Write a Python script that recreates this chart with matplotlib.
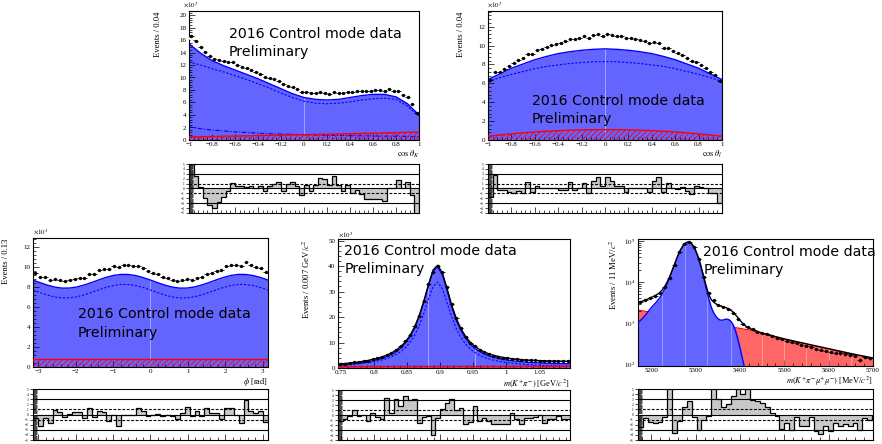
import numpy as np
import matplotlib
matplotlib.use("Agg")
import matplotlib.pyplot as plt
from matplotlib.ticker import MultipleLocator, FuncFormatter, LogLocator, NullFormatter

plt.rcParams["font.family"] = ["Liberation Serif", "DejaVu Serif"]
plt.rcParams["mathtext.fontset"] = "stix"
plt.rcParams["hatch.linewidth"] = 0.6

# ---------------- cos(theta_K) ----------------
ctk_fit_x = np.linspace(-1, 1, 21)
ctk_sig = [15.4, 13.9, 12.7, 11.9, 11.2, 10.5, 9.8, 9.0, 8.2, 7.4, 6.8,
           6.5, 6.4, 6.5, 6.8, 7.1, 7.3, 7.3, 6.9, 5.8, 4.0]
ctk_total = [16.3, 14.8, 13.6, 12.8, 12.1, 11.4, 10.7, 9.9, 9.1, 8.3, 7.7,
             7.4, 7.3, 7.4, 7.7, 8.0, 8.2, 8.2, 7.8, 6.7, 4.7]
ctk_dash = [12.5, 12.0, 11.4, 10.9, 10.3, 9.7, 9.0, 8.3, 7.5, 6.8, 6.2,
            5.9, 5.8, 5.9, 6.1, 6.4, 6.6, 6.7, 6.5, 5.4, 3.8]
ctk_dashdot = [2.1, 1.8, 1.6, 1.45, 1.3, 1.2, 1.1, 1.0, 0.95, 0.9, 0.85,
               0.8, 0.75, 0.72, 0.7, 0.68, 0.65, 0.62, 0.6, 0.58, 0.55]
ctk_bkg = [0.50, 0.53, 0.56, 0.60, 0.63, 0.67, 0.70, 0.74, 0.77, 0.81, 0.85,
           0.88, 0.92, 0.96, 1.00, 1.04, 1.08, 1.12, 1.17, 1.22, 1.28]
ctk_data = [16.6, 15.8, 14.8, 14.1, 13.4, 12.9, 12.8, 12.6, 12.4, 12.4,
            12.0, 11.75, 11.45, 11.2, 10.85, 10.6, 10.15, 9.95, 9.7, 9.45,
            8.9, 8.7, 8.45, 8.1, 7.65, 7.75, 7.45, 7.5, 7.6, 7.55,
            7.4, 7.65, 7.5, 7.45, 7.7, 7.65, 7.85, 7.85, 7.85, 7.9,
            7.95, 7.95, 7.9, 8.1, 7.9, 7.8, 7.2, 6.85, 5.75, 4.3]
ctk_pull = [5.5, 2.6, 0.3, -1.9, -3.4, -3.9, -2.7, -1.7, -0.6, 1.2,
            0.6, 0.5, 0.3, 0.6, 0.1, 0.6, -0.6, 0.6, 0.9, 1.3,
            -0.5, 1.0, 1.3, 0.5, -1.3, 0.8, -0.6, 0.8, 2.1, 2.0,
            0.8, 2.5, 0.8, -0.6, 0.8, -1.0, -0.3, -1.2, -2.1, -2.2,
            -2.2, -2.1, -2.5, 0.0, 0.0, 1.8, 0.1, 1.4, -1.3, -5.5]

# ---------------- cos(theta_l) ----------------
ctl_fit_x = np.linspace(-1, 1, 21)
ctl_sig = [6.4, 7.0, 7.6, 8.05, 8.5, 8.85, 9.15, 9.35, 9.5, 9.6, 9.65,
           9.6, 9.5, 9.35, 9.15, 8.85, 8.5, 8.05, 7.6, 7.0, 6.4]
ctl_dash = [6.2, 6.6, 6.95, 7.25, 7.55, 7.8, 7.95, 8.1, 8.2, 8.28, 8.3,
            8.28, 8.2, 8.1, 7.95, 7.8, 7.55, 7.25, 6.95, 6.6, 6.2]
ctl_bkg = [0.4, 0.53, 0.65, 0.76, 0.85, 0.93, 0.99, 1.04, 1.07, 1.09, 1.1,
           1.09, 1.07, 1.04, 0.99, 0.93, 0.85, 0.76, 0.65, 0.53, 0.4]
ctl_data = [6.4, 7.2, 7.24, 7.57, 7.83, 8.11, 8.42, 8.66, 9.12, 9.15,
            9.5, 9.66, 9.86, 10.03, 10.2, 10.31, 10.44, 10.73, 10.66, 10.78,
            10.96, 10.81, 11.1, 11.21, 11.05, 11.23, 11.14, 11.0, 10.96, 10.77,
            10.78, 10.69, 10.59, 10.49, 10.26, 10.34, 10.26, 9.77, 9.77, 9.45,
            9.21, 9.03, 8.7, 8.37, 8.26, 7.95, 7.6, 7.18, 6.84, 6.28]
ctl_pull = [-1.8, 2.8, -0.3, -0.3, -0.8, -0.9, -0.6, -0.9, 1.3, -0.8,
            0.5, 0.0, 0.1, 0.1, 0.1, -0.3, -0.3, 1.4, -0.3, 0.0,
            1.1, -1.0, 1.5, 2.3, 0.5, 2.3, 1.6, 0.5, 0.5, -0.8,
            0.0, 0.0, 0.0, 0.2, -0.8, 1.5, 2.4, -0.8, 1.1, 0.0,
            -0.2, 0.4, -0.5, -1.1, 0.6, 0.4, 0.0, -0.9, -0.9, -3.0]

# ---------------- phi ----------------
phi_fit_x = np.linspace(-np.pi, np.pi, 33)
phi_sig = [8.72, 8.45, 8.20, 8.01, 7.91, 7.92, 8.03, 8.23, 8.48, 8.75, 9.00,
           9.19, 9.29, 9.28, 9.17, 8.97, 8.72, 8.45, 8.20, 8.01, 7.91, 7.92,
           8.03, 8.23, 8.48, 8.75, 9.00, 9.19, 9.29, 9.28, 9.17, 8.97, 8.72]
phi_dash = [7.72, 7.45, 7.21, 7.02, 6.93, 6.94, 7.05, 7.24, 7.49, 7.75, 8.00,
            8.18, 8.28, 8.27, 8.16, 7.97, 7.72, 7.45, 7.21, 7.02, 6.93, 6.94,
            7.05, 7.24, 7.49, 7.75, 8.00, 8.18, 8.28, 8.27, 8.16, 7.97, 7.72]
phi_bkg = [0.76, 0.76]
phi_data = [9.41, 9.05, 9.02, 8.74, 8.85, 8.74, 8.60, 8.68, 8.78, 8.91,
            8.95, 9.33, 9.37, 9.69, 9.87, 9.87, 10.13, 9.99, 10.25, 10.23,
            10.16, 10.17, 9.95, 9.67, 9.47, 9.28, 9.05, 8.91, 8.75, 8.61,
            8.68, 8.81, 8.71, 8.93, 9.00, 9.33, 9.45, 9.66, 9.74, 10.11,
            10.25, 10.21, 10.09, 10.52, 10.22, 10.07, 9.94, 9.54]
phi_pull = [-0.7, -2.2, -0.6, -1.7, 0.8, 0.5, -0.5, 0.1, 0.4, 0.5,
            -0.7, 1.2, -0.5, 0.6, 0.5, -1.2, 0.0, -2.2, 0.0, 0.0,
            0.0, 1.3, 0.7, -0.2, -0.1, 0.1, -0.3, 0.0, -0.2, -0.8,
            0.3, 1.4, -0.3, 0.7, -0.2, 1.2, 0.3, 0.3, -0.8, 1.2,
            1.2, 0.0, -1.6, 2.9, 0.6, 0.3, 0.6, -1.5]

# ---------------- m(K pi) ----------------
mkp_lo, mkp_hi = 0.7459, 1.0959
mkp_centres = np.linspace(0.7494, 1.0924, 50)
mkp_fit_x = np.concatenate([[mkp_lo], mkp_centres, [mkp_hi]])
mkp_total = [1.55, 1.61, 1.77, 1.95, 2.16, 2.39, 2.66, 2.98, 3.36, 3.80,
             4.35, 5.03, 5.87, 6.95, 8.35, 10.2, 12.7, 16.1, 20.6, 26.3,
             32.8, 38.5, 40.3, 37.3, 31.2, 24.7, 19.4, 15.4, 12.4, 10.1,
             8.5, 7.26, 6.30, 5.57, 5.01, 4.55, 4.18, 3.90, 3.65, 3.46,
             3.30, 3.16, 3.05, 2.97, 2.89, 2.83, 2.77, 2.74, 2.70, 2.67,
             2.66, 2.65]
mkp_sig = [1.05, 1.11, 1.26, 1.43, 1.63, 1.85, 2.11, 2.42, 2.79, 3.22,
           3.76, 4.43, 5.26, 6.33, 7.72, 9.56, 12.05, 15.44, 19.93, 25.62,
           32.11, 37.8, 39.6, 36.6, 30.5, 23.98, 18.67, 14.66, 11.65, 9.34,
           7.73, 6.48, 5.51, 4.77, 4.2, 3.73, 3.35, 3.06, 2.8, 2.6,
           2.43, 2.28, 2.16, 2.07, 1.98, 1.91, 1.84, 1.80, 1.75, 1.71,
           1.69, 1.67]
mkp_dash = [1.1, 1.17, 1.27, 1.40, 1.55, 1.71, 1.91, 2.15, 2.43, 2.77,
            3.2, 3.73, 4.4, 5.27, 6.41, 7.92, 9.96, 12.77, 16.5, 21.4,
            27.1, 32.0, 33.7, 30.96, 25.6, 20.08, 15.4, 11.92, 9.37, 7.5,
            6.08, 5.03, 4.21, 3.59, 3.08, 2.68, 2.34, 2.08, 1.85, 1.66,
            1.5, 1.36, 1.25, 1.15, 1.05, 0.98, 0.91, 0.85, 0.79, 0.74,
            0.7, 0.68]
mkp_bkg = [0.55, 0.65]
mkp_data = [1.56, 1.74, 1.94, 2.21, 2.38, 2.67, 2.91, 3.39, 3.78, 4.30,
            5.27, 5.90, 7.22, 8.52, 10.6, 13.05, 16.5, 20.4, 26.2, 32.8,
            37.7, 40.2, 37.6, 31.6, 25.2, 19.55, 15.55, 12.2, 9.97, 8.66,
            7.16, 6.26, 5.48, 4.88, 4.44, 4.06, 3.78, 3.67, 3.41, 3.19,
            3.13, 3.02, 2.95, 2.90, 2.74, 2.73, 2.70, 2.69, 2.63, 2.62]
mkp_pull = [-1.2, -0.8, -0.2, 1.1, -0.1, 0.1, -1.2, 0.5, -0.4, -0.8,
            3.4, 0.4, 3.2, 1.9, 3.9, 3.1, 3.2, -1.5, -0.4, -0.2,
            -4.0, -0.5, 1.2, 2.4, 3.3, 1.0, 1.4, -1.8, -1.3, 1.8,
            -1.2, -0.5, -1.2, -1.8, -1.7, -1.8, -1.8, 0.4, -0.8, -1.8,
            -0.5, -0.5, -0.4, 0.1, -1.6, -0.8, -0.8, -0.2, -0.8, -0.7]

# ---------------- m(K pi mu mu) ----------------
mb_fit_x = np.concatenate([np.arange(5170, 5421, 5), np.arange(5450, 5701, 50)])
mb_sig = [1050, 1150, 1300, 1500, 1750, 2050, 2400, 2750, 3150, 3650,
          4300, 5300, 6700, 8700, 11500, 16000, 22500, 31500, 43500, 57500,
          71500, 84000, 92000, 93500, 87000, 74000, 58000, 42000, 28000, 17500,
          10500, 6200, 3800, 2500, 1850, 1500, 1300, 1200, 1180, 1230,
          1260, 1220, 1100, 900, 650, 420, 250, 145, 85, 50,
          30, 1, 1, 1, 1, 1, 1]
mb_bkg = [2100, 2053, 2008, 1963, 1920, 1877, 1835, 1795, 1755, 1716,
          1678, 1641, 1604, 1569, 1534, 1500, 1466, 1434, 1402, 1371,
          1340, 1311, 1282, 1253, 1225, 1198, 1172, 1146, 1120, 1095,
          1071, 1047, 1024, 1001, 979, 957, 936, 915, 895, 875,
          856, 837, 818, 800, 782, 765, 748, 731, 715, 703,
          690, 560, 410, 310, 236, 180, 140]
mb_total = [3150, 3300, 3450, 3600, 3800, 4000, 4250, 4500, 4800, 5150,
            5700, 6500, 7800, 9700, 12500, 17000, 23500, 32500, 44500, 58500,
            72500, 85000, 93000, 94500, 88000, 75000, 59000, 43000, 29000, 18500,
            11500, 7200, 4900, 3800, 3300, 3000, 2800, 2650, 2550, 2450,
            2350, 2200, 2050, 1850, 1600, 1380, 1180, 1020, 900, 820,
            760, 575, 415, 315, 240, 183, 142]
mb_centres = np.arange(5175.5, 5700, 11)
mb_data = [3300, 3600, 4000, 4600, 5300, 7800, 12500, 26000, 55000, 86000,
           94000, 70000, 36000, 13000, 5400, 3600, 2700, 2500, 2200, 1800,
           1300, 980, 830, 710, 600, 570, 540, 480, 430, 405,
           365, 345, 330, 300, 285, 258, 235, 228, 210, 198,
           193, 184, 176, 167, 160, 128, 148, 142]
mb_pull = [-2.5, -0.7, -1.5, -1.7, -1.4, -0.5, 5.5, -3.6, -1.2, 1.4,
           2.7, -0.4, -3.1, -1.0, -0.2, 5.5, 3.1, 1.4, 2.1, 3.7,
           5.5, 4.1, 5.5, 2.9, 2.7, 2.2, 1.4, 0.3, -0.2, -2.8,
           -1.6, -3.0, -0.4, -2.2, -2.2, -0.4, -3.3, -3.8, -2.2, -3.3,
           -1.6, -2.2, -1.8, -2.2, -1.7, -3.1, -0.7, -1.0]

BLUE_FILL = "#6464ff"
BLUE = "#0000ff"
RED = "#ff0000"
RED_FILL = "#ff6666"
GREY = "#c8c8c8"
TAG_LINES = ("2016 Control mode data", "Preliminary")

fig = plt.figure(figsize=(8.82, 4.44), dpi=100)


def px_axes(x0, y0, x1, y1):
    # axes from a pixel box, origin top-left
    return fig.add_axes([x0 / 882, 1 - y1 / 444, (x1 - x0) / 882, (y1 - y0) / 444])


def num(v, pos=None):
    if abs(v) < 1e-9:
        return "0"
    return ("%g" % v).replace("-", "\u2212")


def style_axes(ax, xlim, xmaj, xmin, ylim, ymaj=None, ymin=None, labelsize=5):
    ax.set_xlim(*xlim)
    ax.set_ylim(*ylim)
    ax.xaxis.set_major_locator(MultipleLocator(xmaj))
    ax.xaxis.set_minor_locator(MultipleLocator(xmin))
    ax.xaxis.set_major_formatter(FuncFormatter(num))
    if ymaj is not None:
        ax.yaxis.set_major_locator(MultipleLocator(ymaj))
        ax.yaxis.set_minor_locator(MultipleLocator(ymin))
        ax.yaxis.set_major_formatter(FuncFormatter(num))
    ax.tick_params(which="both", direction="in", width=0.5, labelsize=labelsize)
    ax.tick_params(which="major", length=4)
    ax.tick_params(which="minor", length=2)
    ax.tick_params(axis="x", pad=1.2)
    ax.tick_params(axis="y", pad=2)
    for s in ax.spines.values():
        s.set_linewidth(0.8)


def draw_data(ax, x, y, half, err):
    ax.errorbar(x, y, xerr=half, yerr=err, fmt="o", ms=1.4, color="k",
                elinewidth=0.6, capsize=0, zorder=6)


def draw_pulls(ax, edges, pulls, xlim, xmaj, xmin):
    ax.stairs(pulls, edges, baseline=0, fill=True, color=GREY, lw=0)
    ax.stairs(pulls, edges, baseline=0, color="k", lw=0.9)
    for lvl in (-3, 0, 3):
        ax.axhline(lvl, color="k", lw=0.8)
    for lvl in (-1, 1):
        ax.axhline(lvl, color="k", lw=0.8, ls=(0, (2.5, 1.5)))
    style_axes(ax, xlim, xmaj, xmin, (-5, 5), 1, 0.2, labelsize=2.5)
    ax.tick_params(axis="x", labelbottom=False)
    ax.tick_params(axis="y", which="major", direction="inout", length=5, pad=1)
    ax.tick_params(axis="y", which="minor", length=3)


def decorate(ax, ylabel, xlabel, yl_x, xl_y, tag_x, tag_y1, tag_y2, exp_xy=None):
    ax.text(yl_x, 0.995, ylabel, transform=ax.transAxes, rotation=90,
            ha="center", va="top", fontsize=6.2)
    ax.text(1.0, xl_y, xlabel, transform=ax.transAxes, ha="right",
            va="baseline", fontsize=6)
    ax.text(tag_x, tag_y1, TAG_LINES[0], transform=ax.transAxes,
            family="DejaVu Sans", fontsize=10.2, zorder=10)
    ax.text(tag_x, tag_y2, TAG_LINES[1], transform=ax.transAxes,
            family="DejaVu Sans", fontsize=10.2, zorder=10)
    if exp_xy is not None:
        ax.text(exp_xy[0], exp_xy[1], r"$\times10^{3}$", transform=ax.transAxes,
                ha="left", va="bottom", fontsize=5)


def hatch_bkg(ax, x, y):
    ax.fill_between(x, y, 0, facecolor="none", edgecolor=RED, hatch="//////", lw=0, zorder=3)
    ax.plot(x, y, color=RED, lw=1.0, zorder=4)


# ---- panel 1: cos theta_K ----
ax = px_axes(189, 11, 419, 140)
ax.fill_between(ctk_fit_x, ctk_sig, 0, color=BLUE_FILL, lw=0)
ax.vlines(ctk_fit_x[10], 0, ctk_sig[10], color="white", alpha=0.5, lw=0.6)
ax.plot(ctk_fit_x, ctk_sig, color=BLUE, lw=1.0)
ax.plot(ctk_fit_x, ctk_dash, color=BLUE, lw=0.8, ls=(0, (2, 1.5)))
ax.plot(ctk_fit_x, ctk_dashdot, color=BLUE, lw=0.8, ls=(0, (4, 1.5, 1, 1.5)))
hatch_bkg(ax, ctk_fit_x, ctk_bkg)
ax.plot(ctk_fit_x, ctk_total, color="white", lw=1.4, zorder=5)
centres = np.linspace(-0.98, 0.98, 50)
draw_data(ax, centres, ctk_data, 0.02, np.sqrt(np.array(ctk_data) * 1000) / 1000)
style_axes(ax, (-1, 1), 0.2, 0.04, (0, 20.64), 2, 0.4)
decorate(ax, "Events / 0.04", r"$\cos\theta_{K}$", -0.135, -0.132, 0.174, 0.79, 0.655,
         (-0.028, 1.015))
axr = px_axes(189, 164, 419, 213)
draw_pulls(axr, np.linspace(-1, 1, 51), ctk_pull, (-1, 1), 0.2, 0.04)

# ---- panel 2: cos theta_l ----
ax = px_axes(488, 11, 722, 140)
ax.fill_between(ctl_fit_x, ctl_sig, 0, color=BLUE_FILL, lw=0)
ax.vlines(ctl_fit_x[10], 0, ctl_sig[10], color="white", alpha=0.5, lw=0.6)
ax.plot(ctl_fit_x, ctl_sig, color=BLUE, lw=1.0)
ax.plot(ctl_fit_x, ctl_dash, color=BLUE, lw=0.8, ls=(0, (2, 1.5)))
hatch_bkg(ax, ctl_fit_x, ctl_bkg)
draw_data(ax, centres, ctl_data, 0.02, np.sqrt(np.array(ctl_data) * 1000) / 1000)
style_axes(ax, (-1, 1), 0.2, 0.04, (0, 13.66), 2, 0.4)
decorate(ax, "Events / 0.04", r"$\cos\theta_{l}$", -0.117, -0.132, 0.187, 0.271, 0.134,
         (-0.005, 1.015))
axr = px_axes(488, 164, 722, 213)
draw_pulls(axr, np.linspace(-1, 1, 51), ctl_pull, (-1, 1), 0.2, 0.04)

# ---- panel 3: phi ----
ax = px_axes(33, 238, 268, 367)
ax.fill_between(phi_fit_x, phi_sig, 0, color=BLUE_FILL, lw=0)
ax.vlines(phi_fit_x[16], 0, phi_sig[16], color="white", alpha=0.5, lw=0.6)
ax.plot(phi_fit_x, phi_sig, color=BLUE, lw=1.0)
ax.plot(phi_fit_x, phi_dash, color=BLUE, lw=0.8, ls=(0, (2, 1.5)))
hatch_bkg(ax, phi_fit_x[[0, -1]], phi_bkg)
phi_edges = np.linspace(-np.pi, np.pi, 49)
phi_centres = 0.5 * (phi_edges[1:] + phi_edges[:-1])
draw_data(ax, phi_centres, phi_data, np.pi / 48, np.sqrt(np.array(phi_data) * 1000) / 1000)
style_axes(ax, (-np.pi, np.pi), 1, 0.2, (0, 12.94), 2, 0.4)
decorate(ax, "Events / 0.13", r"$\phi$ [rad]", -0.115, -0.135, 0.19, 0.378, 0.235,
         (0.0, 1.015))
axr = px_axes(33, 389, 268, 440)
draw_pulls(axr, phi_edges, phi_pull, (-np.pi, np.pi), 1, 0.2)

# ---- panel 4: m(K pi) ----
ax = px_axes(338, 239, 570, 368)
ax.fill_between(mkp_fit_x, mkp_sig, 0, color=BLUE_FILL, lw=0)
for i in (20, 30):
    ax.vlines(mkp_fit_x[i], 0, mkp_sig[i], color="white", alpha=0.5, lw=0.6)
ax.plot(mkp_fit_x, mkp_sig, color=BLUE, lw=1.0)
ax.plot(mkp_fit_x, mkp_dash, color=BLUE, lw=0.8, ls=(0, (2, 1.5)))
hatch_bkg(ax, mkp_fit_x[[0, -1]], mkp_bkg)
ax.plot(mkp_fit_x, mkp_total, color="k", lw=1.0, zorder=5)
draw_data(ax, mkp_centres, mkp_data, 0.0035, np.sqrt(np.array(mkp_data) * 1000) / 1000)
style_axes(ax, (mkp_lo, mkp_hi), 0.05, 0.01, (0, 50.6), 10, 2)
decorate(ax, r"Events / 0.007 GeV/$c^{2}$", r"$m(K^{+}\pi^{-})$ [GeV/$c^{2}$]",
         -0.135, -0.14, 0.027, 0.874, 0.736, (0.0, 1.003))
axr = px_axes(338, 390, 570, 440)
draw_pulls(axr, np.linspace(mkp_lo, mkp_hi, 51), mkp_pull, (mkp_lo, mkp_hi), 0.05, 0.01)

# ---- panel 5: m(K pi mu mu), log scale ----
ylo = 91
ax = px_axes(638, 239, 873, 366)
ax.set_yscale("log")
ax.fill_between(mb_fit_x, mb_bkg, ylo * 0.5, color=RED_FILL, lw=0, zorder=1)
ax.plot(mb_fit_x, mb_bkg, color=RED, lw=0.8, zorder=1.5)
ax.fill_between(mb_fit_x, mb_sig, ylo * 0.5, color=BLUE_FILL, lw=0, zorder=2)
for i in (11, 21, 31, 42):
    ax.vlines(mb_fit_x[i], ylo, mb_sig[i], color="white", alpha=0.4, lw=0.6, zorder=2.5)
for i in (51, 52, 53, 54, 55):
    ax.vlines(mb_fit_x[i], ylo, mb_bkg[i], color="white", alpha=0.4, lw=0.6, zorder=2.5)
ax.plot(mb_fit_x, mb_sig, color=BLUE, lw=1.0, zorder=3)
ax.plot(mb_fit_x, mb_total, color="k", lw=1.0, zorder=5)
draw_data(ax, mb_centres, mb_data, 5.5, np.sqrt(np.array(mb_data)))
style_axes(ax, (5170, 5700), 100, 20, (ylo, 1.12e5))
ax.yaxis.set_major_locator(LogLocator(base=10))
ax.yaxis.set_major_formatter(FuncFormatter(lambda v, p: r"$10^{%d}$" % round(np.log10(v))))
ax.yaxis.set_minor_locator(LogLocator(base=10, subs=np.arange(2, 10)))
ax.yaxis.set_minor_formatter(NullFormatter())
decorate(ax, r"Events / 11 MeV/$c^{2}$", r"$m(K^{+}\pi^{-}\mu^{+}\mu^{-})$ [MeV/$c^{2}$]",
         -0.105, -0.145, 0.278, 0.866, 0.727)
axr = px_axes(638, 389, 873, 440)
draw_pulls(axr, np.arange(5170, 5700, 11), mb_pull[:48], (5170, 5700), 100, 20)

fig.savefig("out.png", dpi=100)
